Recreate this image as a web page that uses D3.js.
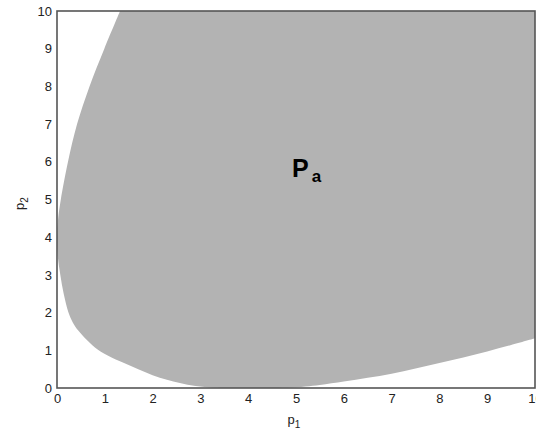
<!DOCTYPE html>
<html>
<head>
<meta charset="utf-8">
<script src="https://cdn.jsdelivr.net/npm/d3@7"></script>
<style>
  html, body { margin: 0; padding: 0; background: #fff; }
  svg { display: block; font-family: "Liberation Sans", Arial, Helvetica, sans-serif; }
</style>
</head>
<body>
<svg id="chart" width="536" height="435"></svg>
<script>
// Boundary of the feasible region P_a, traced from the top edge (p2 = 10)
// down the left side, along the p1 axis and up to the right edge (p1 = 10).
const boundaryP1 = [1.32, 0.99, 0.68, 0.42, 0.23, 0.08, 0.025, 0.0, 0.015, 0.07, 0.14, 0.24, 0.33, 0.44, 0.62, 0.80, 1.05, 1.39, 1.70, 2.0, 2.3, 2.57, 2.9, 3.3, 4.0, 4.8, 5.2, 5.5, 6.0, 6.5, 7.0, 7.5, 8.0, 8.5, 9.0, 9.5, 10.0];
const boundaryP2 = [10, 9, 8, 7, 6, 5, 4.5, 4, 3.5, 3, 2.5, 2, 1.74, 1.53, 1.28, 1.07, 0.87, 0.67, 0.5, 0.34, 0.22, 0.13, 0.05, 0.005, 0, 0.005, 0.04, 0.08, 0.17, 0.27, 0.38, 0.52, 0.66, 0.81, 0.97, 1.14, 1.32];
const xTicks = [0, 1, 2, 3, 4, 5, 6, 7, 8, 9, 10];
const yTicks = [0, 1, 2, 3, 4, 5, 6, 7, 8, 9, 10];
const regionLabel = "P";
const regionSub = "a";

const margin = { left: 57, right: 1, top: 11, bottom: 47 };
const W = 536, H = 435;
const svg = d3.select("#chart");

const x = d3.scaleLinear().domain([0, 10]).range([margin.left, W - margin.right]);
const y = d3.scaleLinear().domain([0, 10]).range([H - margin.bottom, margin.top]);

svg.append("defs").append("clipPath").attr("id", "plot-clip")
  .append("rect")
  .attr("x", x(0)).attr("y", y(10))
  .attr("width", x(10) - x(0)).attr("height", y(0) - y(10));

// region fill: smooth boundary, closed through the top-right corner
const pts = boundaryP1.map((d, i) => [d, boundaryP2[i]]);
const line = d3.line()
  .x(d => x(d[0])).y(d => y(d[1]))
  .curve(d3.curveCatmullRom.alpha(0.5));
const pathD = line(pts) + `L${x(10)},${y(10)}Z`;

svg.append("path")
  .attr("d", pathD)
  .attr("fill", "#b3b3b3")
  .attr("clip-path", "url(#plot-clip)");

// axes without tick marks
const xAxis = d3.axisBottom(x).tickValues(xTicks).tickSize(0).tickPadding(6).tickFormat(d3.format("d"));
const yAxis = d3.axisLeft(y).tickValues(yTicks).tickSize(0).tickPadding(5).tickFormat(d3.format("d"));

const gx = svg.append("g").attr("transform", `translate(0,${y(0)})`).call(xAxis);
const gy = svg.append("g").attr("transform", `translate(${x(0)},0)`).call(yAxis);
[gx, gy].forEach(g => {
  g.select(".domain").remove();
  g.selectAll("text").attr("font-size", 13).attr("fill", "#222")
    .attr("font-family", "\"Liberation Sans\", Arial, sans-serif");
});
gx.selectAll("text").attr("dy", "0.71em");

// frame box
svg.append("rect")
  .attr("x", x(0)).attr("y", y(10))
  .attr("width", x(10) - x(0)).attr("height", y(0) - y(10))
  .attr("fill", "none").attr("stroke", "#555").attr("stroke-width", 1.6);

// axis titles
const xt = svg.append("text")
  .attr("x", (x(0) + x(10)) / 2 - 2).attr("y", 424)
  .attr("text-anchor", "middle").attr("font-size", 13).attr("fill", "#222");
xt.append("tspan").text("p");
xt.append("tspan").attr("font-size", 10).attr("dy", 4).text("1");

const yt = svg.append("text")
  .attr("transform", `translate(24,${(y(0) + y(10)) / 2 + 4}) rotate(-90)`)
  .attr("text-anchor", "middle").attr("font-size", 13).attr("fill", "#222");
yt.append("tspan").text("p");
yt.append("tspan").attr("font-size", 10).attr("dy", 4).text("2");

// region label
const rl = svg.append("text")
  .attr("x", 292).attr("y", 177)
  .attr("font-weight", "bold").attr("fill", "#000");
rl.append("tspan").attr("font-size", 25).text(regionLabel);
rl.append("tspan").attr("font-size", 17).attr("dx", 3).attr("dy", 5).text(regionSub);
</script>
</body>
</html>
